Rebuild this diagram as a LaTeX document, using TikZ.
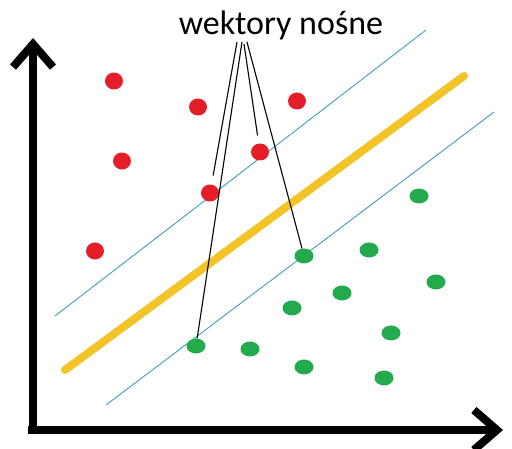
\documentclass[tikz,border=0pt]{standalone}
\usepackage{fontspec}
\setmainfont{Carlito}
\usetikzlibrary{arrows.meta, shapes.geometric}
\definecolor{paintred}{RGB}{228,30,40}
\definecolor{paintgreen}{RGB}{34,170,76}
\definecolor{marginblue}{RGB}{60,160,185}
\definecolor{hypergold}{RGB}{242,196,40}

\begin{document}
\begin{tikzpicture}[
    x=1pt, y=-1pt,
    reddot/.style={ellipse, fill=paintred, minimum width=18pt, minimum height=17pt, inner sep=0pt},
    greendot/.style={ellipse, fill=paintgreen, minimum width=19pt, minimum height=15pt, inner sep=0pt},
    axis/.style={line width=8pt, -{Straight Barb[length=23pt, width=40pt]}},
    margin/.style={draw=marginblue, line width=0.9pt},
    pointer/.style={draw=black, line width=1.1pt}
]
\useasboundingbox (0,0) rectangle (512,449);
% axes
\coordinate (origin) at (33,430);
\coordinate (ytip) at (33,38);
\coordinate (xtip) at (503,430);
\draw[axis] ([yshift=-2pt]origin) -- (ytip);
\draw[axis] ([xshift=-5pt]origin) -- (xtip);
% margins and separating line
\coordinate (m1a) at (55,316);  \coordinate (m1b) at (426,30);
\coordinate (m2a) at (106,405); \coordinate (m2b) at (494,112);
\coordinate (ha) at (65,370);   \coordinate (hb) at (464,76);
\draw[margin] (m1a) -- (m1b);
\draw[margin] (m2a) -- (m2b);
\draw[hypergold, line width=8pt, line cap=round] (ha) -- (hb);
% class one
\foreach \i/\x/\y in {1/114/81,2/198/107,3/297/101,4/122/161,5/260/152,6/210/193,7/95/251}{\node[reddot] (r\i) at (\x,\y) {};}
% class two
\foreach \i/\x/\y in {1/419/196,2/304/256,3/369/250,4/436/282,5/342/293,6/292/308,7/391/333,8/196/346,9/250/349,10/304/367,11/384/378}{\node[greendot] (g\i) at (\x,\y) {};}
% label
\node[font=\fontsize{34}{40}\selectfont, anchor=base] (label) at (281,35) {wektory nośne};
\coordinate (s1) at (237,42);
\coordinate (s2) at (242,42);
\coordinate (s3) at (244,44);
\coordinate (s4) at (247,42);
\draw[pointer, shorten >=9pt] (s1) -- (r6);
\draw[pointer] (s2) -- (g8);
\draw[pointer, shorten >=8pt] (s3) -- (r5);
\draw[pointer] (s4) -- (g2);
\end{tikzpicture}
\end{document}
